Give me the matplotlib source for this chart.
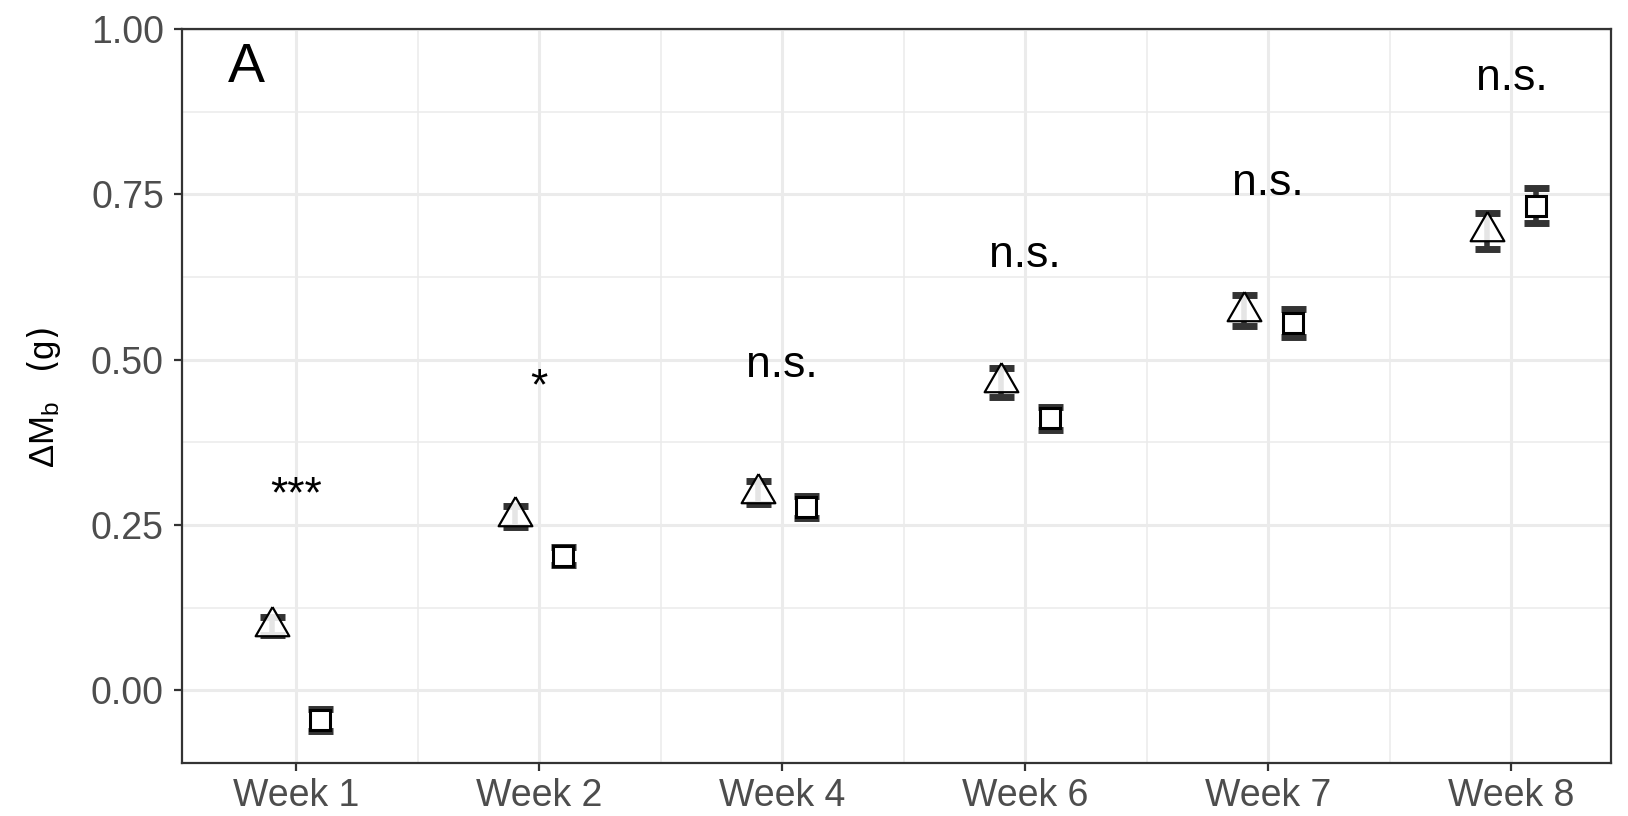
import numpy as np
import matplotlib
matplotlib.use('Agg')
import matplotlib.pyplot as plt
from matplotlib.ticker import MultipleLocator

plt.rcParams['font.family'] = ['Liberation Sans', 'DejaVu Sans']
plt.rcParams['mathtext.default'] = 'regular'

# Data
weeks = ['Week 1', 'Week 2', 'Week 4', 'Week 6', 'Week 7', 'Week 8']
tri_mean = [0.097, 0.263, 0.299, 0.466, 0.574, 0.695]
tri_err = [0.014, 0.016, 0.018, 0.022, 0.023, 0.027]
sq_mean = [-0.045, 0.203, 0.277, 0.411, 0.555, 0.733]
sq_err = [0.016, 0.014, 0.016, 0.018, 0.021, 0.027]
sig_labels = ['***', '*', 'n.s.', 'n.s.', 'n.s.', 'n.s.']
sig_y = [0.276, 0.44, 0.474, 0.640, 0.749, 0.908]

x = np.arange(1, len(weeks) + 1)
offset = 0.1

# Triangle shaped like R's pch 24 (centroid at the point)
tri_marker = [(0, 1.555), (1.347, -0.778), (-1.347, -0.778), (0, 1.555)]

fig = plt.figure(figsize=(16.28, 8.16), dpi=100)
ax = fig.add_axes([0.1118, 0.0650, 0.8778, 0.8995])

# grid lines like theme_bw
ax.set_axisbelow(True)
ax.yaxis.set_major_locator(MultipleLocator(0.25))
ax.yaxis.set_minor_locator(MultipleLocator(0.125))
ax.set_xticks(x)
ax.set_xticks(x[:-1] + 0.5, minor=True)
ax.grid(which='major', color='#ebebeb', linewidth=2.2)
ax.grid(which='minor', color='#ebebeb', linewidth=1.1)

# error bars first, then markers on top
ax.errorbar(x - offset, tri_mean, yerr=tri_err, fmt='none', ecolor='#333333',
            elinewidth=4, capsize=9, capthick=5, zorder=2)
ax.errorbar(x + offset, sq_mean, yerr=sq_err, fmt='none', ecolor='#333333',
            elinewidth=4, capsize=9, capthick=5, zorder=2)
ax.plot(x - offset, tri_mean, linestyle='none', marker=tri_marker, markersize=28,
        markerfacecolor=(1, 1, 1, 0.88), markeredgecolor='black',
        markeredgewidth=1.6, zorder=3)
ax.plot(x + offset, sq_mean, linestyle='none', marker='s', markersize=14.5,
        markerfacecolor='white', markeredgecolor='black',
        markeredgewidth=2.2, zorder=3)

# significance labels
for xi, lab, yi in zip(x, sig_labels, sig_y):
    ax.text(xi, yi, lab, ha='center', va='baseline', fontsize=32, color='black')

ax.text(0.032, 0.928, 'A', transform=ax.transAxes, ha='left', va='baseline',
        fontsize=40, color='black')

ax.set_xlim(0.531, 6.41)
ax.set_ylim(-0.11, 1.0)
ax.set_xticklabels(weeks)
ax.yaxis.set_major_formatter(matplotlib.ticker.FormatStrFormatter('%.2f'))

ax.tick_params(which='major', length=6, width=1.6, color='#333333',
               labelsize=27, labelcolor='#4d4d4d')
ax.tick_params(axis='y', pad=7)
ax.tick_params(axis='x', pad=5)
ax.tick_params(which='minor', length=0)

for side in ax.spines.values():
    side.set_color('#333333')
    side.set_linewidth(1.6)

fig.text(0.027, 0.513, r'ΔM$_{b}$$\;\;\;$$\left(g\right)$', rotation=90,
         ha='center', va='center', fontsize=25, color='black')

fig.savefig('out.png', dpi=100)
